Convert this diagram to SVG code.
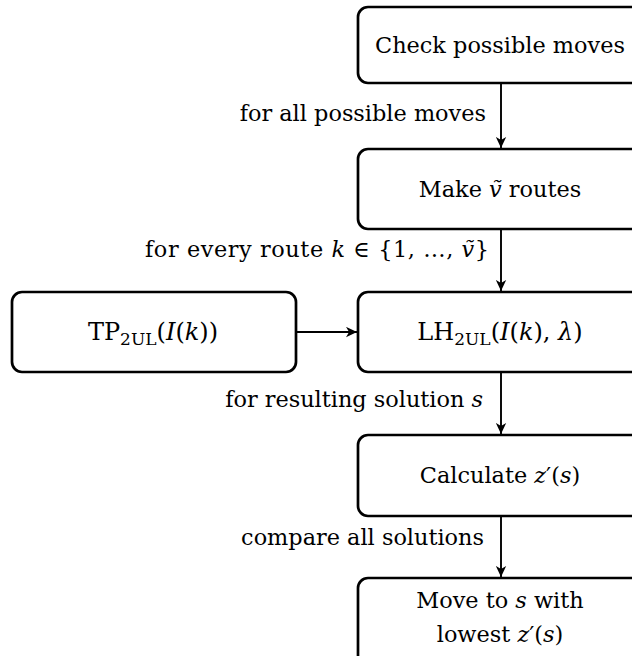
<svg xmlns="http://www.w3.org/2000/svg" width="632" height="656" viewBox="0 0 632 656">
<style>
.box{fill:#fff;stroke:#000;stroke-width:2.7}
.t{font-family:"DejaVu Serif","Liberation Serif",serif;font-size:22.4px;fill:#000}
.m{font-size:24px}
.c{text-anchor:middle}
.e{text-anchor:end}
.i{font-style:italic}
.sub{font-size:17px}
.conn line{stroke:#000;stroke-width:1.9;marker-end:url(#ah)}
</style>
<defs>
<marker id="ah" viewBox="0 0 10 10" refX="10" refY="5" markerWidth="11" markerHeight="11" markerUnits="userSpaceOnUse" orient="auto">
<path d="M0,0.3 L10,5 L0,9.7 L2.8,5 Z" fill="#000"/>
</marker>
</defs>
<rect width="632" height="656" fill="#fff"/>
<g id="connectors" class="conn">
<line x1="501" y1="83" x2="501" y2="148"/>
<line x1="501" y1="229" x2="501" y2="291"/>
<line x1="501" y1="372" x2="501" y2="434"/>
<line x1="501" y1="516" x2="501" y2="577"/>
<line x1="296" y1="332" x2="357" y2="332"/>
</g>
<g id="labels" class="t e">
<text x="486" y="121">for all possible moves</text>
<text x="489" y="257" textLength="344" lengthAdjust="spacing">for every route <tspan class="i">k</tspan> ∈ {1, …, <tspan class="i">ṽ</tspan>}</text>
<text x="483" y="407">for resulting solution <tspan class="i">s</tspan></text>
<text x="484" y="545">compare all solutions</text>
</g>
<g id="check">
<rect class="box" x="358" y="7" width="300" height="76" rx="10"/>
<text class="t c" x="500" y="53">Check possible moves</text>
</g>
<g id="make">
<rect class="box" x="358" y="149" width="300" height="80" rx="10"/>
<text class="t c" x="500" y="197">Make <tspan class="i">ṽ</tspan> routes</text>
</g>
<g id="tp">
<rect class="box" x="12" y="292" width="284" height="80" rx="10"/>
<text class="t m c" x="153" y="340">TP<tspan class="sub" dy="5">2UL</tspan><tspan dy="-5">(</tspan><tspan class="i">I</tspan>(<tspan class="i">k</tspan>))</text>
</g>
<g id="lh">
<rect class="box" x="358" y="292" width="300" height="80" rx="10"/>
<text class="t m c" x="500" y="340">LH<tspan class="sub" dy="5">2UL</tspan><tspan dy="-5">(</tspan><tspan class="i">I</tspan>(<tspan class="i">k</tspan>), <tspan class="i">λ</tspan>)</text>
</g>
<g id="calc">
<rect class="box" x="358" y="435" width="300" height="81" rx="10"/>
<text class="t c" x="500" y="483">Calculate <tspan class="i">z</tspan>′(<tspan class="i">s</tspan>)</text>
</g>
<g id="move">
<rect class="box" x="358" y="578" width="300" height="100" rx="10"/>
<text class="t c" x="500" y="608">Move to <tspan class="i">s</tspan> with</text>
<text class="t c" x="500" y="642">lowest <tspan class="i">z</tspan>′(<tspan class="i">s</tspan>)</text>
</g>
</svg>
